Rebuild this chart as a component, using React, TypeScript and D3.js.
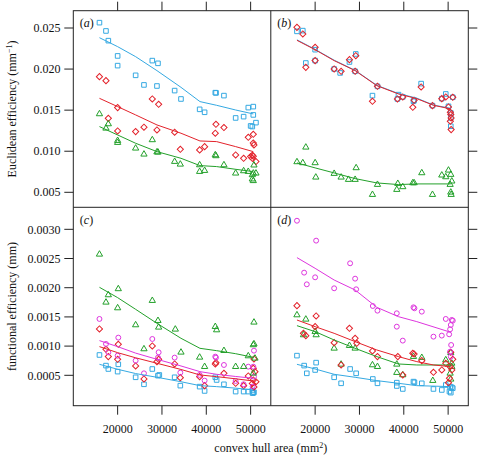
import React from 'react';
import * as d3 from 'd3';

type P = [number, number];

// ---------- data ----------
const X_TICKS = [20000, 30000, 40000, 50000];
const Y_TICKS_TOP = [0.005, 0.01, 0.015, 0.02, 0.025];
const Y_TICKS_BOTTOM = [0.0005, 0.001, 0.0015, 0.002, 0.0025, 0.003];
const PANEL_LABELS = ['a', 'b', 'c', 'd'];
const Y_TITLE_TOP = 'Euclidean efficiency (mm';
const Y_TITLE_BOTTOM = 'functional efficiency (mm)';
const X_TITLE = 'convex hull area (mm';

const A_BLUE_PTS: P[] = [[15900,0.02565],[17370,0.02464],[17900,0.02346],[20000,0.0216],[20000,0.02042],[24060,0.01924],[25940,0.01807],[27820,0.02103],[29100,0.0207],[28870,0.01794],[32860,0.01738],[34290,0.01636],[38500,0.0151],[39620,0.01474],[42030,0.01713],[42200,0.0171],[43980,0.01677],[46620,0.01405],[48420,0.01421],[49470,0.01531],[50600,0.01543],[50600,0.01442],[50000,0.01308],[50380,0.013],[51200,0.01348]];
const A_BLUE_LINE: P[] = [[15900,0.02382],[20000,0.02273],[24060,0.02151],[28870,0.01981],[34290,0.01778],[38570,0.01604],[42330,0.01559],[46620,0.01502],[50600,0.01454]];
const A_RED_PTS: P[] = [[15900,0.01908],[17370,0.01859],[20000,0.01531],[17900,0.014],[20000,0.01247],[24060,0.01239],[25940,0.01292],[27820,0.01636],[29250,0.01571],[28870,0.01259],[32860,0.01231],[34140,0.01024],[38500,0.01016],[39620,0.01056],[42030,0.01219],[42180,0.01328],[43980,0.01288],[46620,0.00955],[48420,0.00914],[49470,0.0117],[50600,0.01206],[50600,0.011],[50750,0.01077],[50000,0.00935],[50380,0.00914],[51200,0.00874],[50600,0.0094],[50380,0.0095]];
const A_RED_LINE: P[] = [[15900,0.01644],[20000,0.01543],[24060,0.01442],[28870,0.0132],[34290,0.01219],[38570,0.01125],[42330,0.01117],[46620,0.01056],[50600,0.00995]];
const A_GREEN_PTS: P[] = [[15900,0.01454],[17370,0.01279],[17900,0.01332],[20000,0.01129],[20000,0.01105],[24060,0.01036],[25940,0.00963],[27820,0.01138],[29100,0.00987],[28870,0.0099],[32860,0.00874],[34140,0.00841],[38500,0.00833],[38500,0.00752],[39620,0.00764],[42030,0.00955],[42180,0.00943],[43980,0.00833],[46620,0.00732],[48420,0.0076],[49470,0.00752],[50600,0.00732],[50380,0.00712],[51200,0.00732],[50380,0.0066],[50600,0.0064],[50750,0.0083]];
const A_GREEN_LINE: P[] = [[15900,0.013],[20000,0.01198],[24060,0.01097],[28870,0.00995],[34290,0.00914],[38570,0.00825],[42330,0.00813],[46620,0.0078],[50600,0.00752]];

const B_BLUE_PTS: P[] = [[15900,0.02459],[17220,0.02468],[17900,0.02074],[20000,0.02236],[20000,0.02103],[24290,0.02001],[25640,0.01953],[27740,0.02086],[29170,0.02184],[29020,0.01973],[34060,0.0179],[32930,0.01677],[38570,0.01636],[38800,0.01689],[39770,0.01661],[42180,0.01608],[42330,0.0162],[43910,0.01823],[46470,0.01555],[48570,0.0164],[49470,0.01697],[51050,0.01657],[50080,0.01547],[50600,0.01466],[50600,0.01405],[50600,0.01304]];
const B_BLUE_LINE: P[] = [[15900,0.02356],[20000,0.0224],[24290,0.02108],[29020,0.01985],[33910,0.01802],[38800,0.01702],[42930,0.01646],[46690,0.01562],[50600,0.01522]];
const B_RED_PTS: P[] = [[15900,0.02508],[17220,0.02427],[17900,0.02021],[20000,0.02265],[20000,0.02103],[24290,0.02001],[25860,0.01973],[27740,0.02115],[29170,0.02163],[29020,0.01973],[34060,0.0179],[32930,0.01608],[38570,0.01636],[39770,0.01661],[42030,0.01535],[42330,0.0162],[43910,0.01782],[46470,0.01555],[48570,0.0164],[49470,0.01661],[51050,0.01657],[50080,0.01539],[50500,0.01474],[50600,0.01446],[50680,0.01405],[50500,0.01365],[50680,0.01263]];
const B_RED_LINE: P[] = [[15900,0.0235],[20000,0.02236],[24290,0.02103],[29020,0.01981],[33910,0.01798],[38800,0.01697],[42930,0.0164],[46690,0.01559],[50600,0.01515]];
const B_GREEN_PTS: P[] = [[17900,0.01048],[15900,0.0087],[17220,0.00858],[20000,0.00858],[20150,0.00683],[24290,0.00728],[25860,0.00683],[27520,0.00655],[29020,0.00655],[29250,0.00797],[34060,0.00594],[32930,0.00472],[38650,0.00606],[38420,0.00533],[39770,0.00566],[42030,0.00614],[42330,0.00614],[44060,0.00736],[46470,0.00472],[48570,0.00708],[49470,0.00687],[50080,0.00768],[50600,0.00716],[50830,0.00635],[50450,0.00594],[50600,0.005],[50680,0.00472]];
const B_GREEN_LINE: P[] = [[15900,0.00858],[20000,0.00797],[24290,0.00736],[29020,0.00667],[33910,0.00614],[38800,0.00594],[42930,0.00602],[50600,0.00602]];

const C_GREEN_PTS: P[] = [[15900,0.002572],[17370,0.00175],[17900,0.001876],[20150,0.00198],[20000,0.001653],[24060,0.001362],[25940,0.000951],[27820,0.001779],[29100,0.001436],[29250,0.001322],[33010,0.001288],[34290,0.000894],[38500,0.000808],[39620,0.000648],[42030,0.001333],[42330,0.001276],[43980,0.000922],[46620,0.000648],[48420,0.000648],[49470,0.000831],[50750,0.001408],[50750,0.001037],[50600,0.00102],[50980,0.000791],[50600,0.000534]];
const C_GREEN_LINE: P[] = [[15900,0.002007],[20000,0.00183],[24060,0.00163],[28870,0.00139],[34290,0.001134],[38570,0.000962],[42330,0.000922],[46620,0.00087],[50600,0.000808]];
const C_MAGENTA_PTS: P[] = [[15900,0.001465],[17370,0.001037],[17900,0.000894],[20150,0.001145],[20000,0.000836],[24060,0.000751],[25940,0.000534],[27820,0.001122],[29250,0.000894],[29100,0.000803],[32860,0.000803],[34140,0.000546],[38500,0.000506],[39620,0.000409],[42030,0.00082],[42180,0.000803],[43980,0.000677],[46620,0.000403],[48420,0.000346],[49470,0.000648],[50750,0.000922],[50600,0.000648],[50750,0.000477],[50450,0.000306]];
const C_MAGENTA_LINE: P[] = [[15900,0.001094],[20000,0.000991],[24060,0.00088],[28870,0.000774],[34290,0.00066],[38570,0.000563],[42330,0.000517],[46620,0.00048],[50600,0.000449]];
const C_RED_PTS: P[] = [[15900,0.001293],[17370,0.000945],[17900,0.00082],[20000,0.000774],[20150,0.001031],[24060,0.00066],[25940,0.000437],[27820,0.001002],[29250,0.000774],[28870,0.000734],[32860,0.000694],[34140,0.00046],[38500,0.000477],[39620,0.000323],[42030,0.000694],[42180,0.000717],[43980,0.000534],[46620,0.000363],[48420,0.000323],[49470,0.000489],[50750,0.00078],[50600,0.00062],[50980,0.000563],[50600,0.00042],[51200,0.00039],[50380,0.00036],[50750,0.0003]];
const C_RED_LINE: P[] = [[15900,0.000991],[20000,0.000888],[24060,0.0008],[28870,0.000706],[34290,0.0006],[38570,0.000506],[42330,0.000477],[46620,0.00044],[50600,0.000403]];
const C_BLUE_PTS: P[] = [[15900,0.000848],[17370,0.000666],[17900,0.000608],[20000,0.000563],[20150,0.000688],[24060,0.000466],[25940,0.000346],[27820,0.000608],[29100,0.000494],[29400,0.000506],[32860,0.000466],[34140,0.000323],[38500,0.000306],[39620,0.000232],[42030,0.000466],[42330,0.00042],[43980,0.000346],[46620,0.000221],[48420,0.000221],[49470,0.000221],[50600,0.0002],[50750,0.00021],[50380,0.00024],[50450,0.000195]];
const C_BLUE_LINE: P[] = [[15900,0.000688],[20000,0.000603],[24060,0.00053],[28870,0.000466],[34290,0.00039],[38570,0.000323],[42330,0.000306],[46620,0.00028],[50600,0.000249]];

const D_MAGENTA_PTS: P[] = [[15900,0.003147],[20225,0.002806],[17520,0.002258],[18120,0.002058],[20000,0.002178],[24290,0.00199],[27890,0.002418],[29020,0.002155],[29250,0.001973],[33010,0.001687],[34060,0.001607],[38420,0.001562],[38420,0.001333],[39770,0.001094],[42180,0.001664],[42400,0.001648],[44060,0.00159],[46690,0.001162],[48570,0.00118],[49470,0.001465],[50230,0.001202],[50450,0.001288],[50830,0.001448],[51050,0.001436],[50600,0.001362],[50680,0.001019],[50450,0.000905],[50600,0.00082]];
const D_MAGENTA_LINE: P[] = [[15900,0.002515],[20000,0.002332],[24290,0.002132],[29020,0.001961],[33910,0.001664],[38800,0.001504],[42930,0.001419],[50600,0.001236]];
const D_RED_PTS: P[] = [[15900,0.001693],[20225,0.001516],[20000,0.001333],[17370,0.001219],[17900,0.001179],[24290,0.001059],[25860,0.000677],[27740,0.001305],[29020,0.001134],[29400,0.001048],[32930,0.000917],[34060,0.00082],[38650,0.00082],[39770,0.000506],[42030,0.000877],[42330,0.000865],[44060,0.000751],[46690,0.000551],[48570,0.000591],[49470,0.000706],[50600,0.000894],[51050,0.000774],[50450,0.000648],[50830,0.000591],[50300,0.000449],[50080,0.000374]];
const D_RED_LINE: P[] = [[15900,0.001447],[20000,0.001333],[24290,0.001219],[29020,0.001077],[33910,0.000934],[38800,0.00082],[42930,0.000734],[46690,0.000677],[50600,0.000648]];
const D_GREEN_PTS: P[] = [[15900,0.001533],[17900,0.001459],[17370,0.001191],[20000,0.001248],[20225,0.001191],[24290,0.000962],[25860,0.000688],[27740,0.001008],[29020,0.000962],[32930,0.000677],[34060,0.000648],[38420,0.000688],[38420,0.000546],[39770,0.000506],[42180,0.00082],[44060,0.000803],[46540,0.000409],[49470,0.000763],[50600,0.000888],[50830,0.000648],[50450,0.000534],[50600,0.000432],[50830,0.000705]];
const D_GREEN_LINE: P[] = [[15900,0.00135],[20000,0.001248],[24290,0.001105],[29020,0.000962],[33910,0.00082],[38800,0.000694],[42930,0.000677],[50600,0.000677]];
const D_BLUE_PTS: P[] = [[15900,0.000837],[17520,0.000666],[18120,0.000534],[20225,0.000717],[20000,0.000591],[24290,0.000466],[25860,0.000363],[27890,0.000608],[29250,0.000534],[33010,0.000437],[34060,0.000363],[38420,0.000374],[38420,0.000317],[39770,0.000266],[42180,0.000392],[42400,0.00038],[44060,0.000363],[46690,0.000266],[48570,0.000249],[49470,0.000334],[50450,0.000306],[50830,0.000295],[50300,0.000221],[50600,0.000203],[51050,0.00028]];
const D_BLUE_LINE: P[] = [[15900,0.000688],[20000,0.000608],[24290,0.000517],[29020,0.000466],[33910,0.000409],[38800,0.000363],[42930,0.000323],[50600,0.000306]];

// ---------- styling / layout ----------
const BLUE = '#35A9E2';
const RED = '#E3222B';
const GREEN = '#23A02A';
const MAGENTA = '#DE35DE';
const FONT = "'Liberation Serif', 'DejaVu Serif', serif";
const FRAME = '#222';

const LEFT = 73.3, MID = 270.8, RIGHT = 468.3;
const TOP = 10.7, VMID = 207.3, BOTTOM = 405.7;
const TICK = 9;

type Shape = 'square' | 'diamond' | 'triangle' | 'circle';
interface Series { shape: Shape; color: string; pts: P[]; line: P[] }

const symSquare = d3.symbol().type(d3.symbolSquare).size(21)()!;
const symDiamond = d3.symbol().type(d3.symbolSquare).size(19)()!;
const symTriangle = d3.symbol().type(d3.symbolTriangle).size(17)()!;
const symCircle = d3.symbol().type(d3.symbolCircle).size(19)()!;

const shapePath = (s: Shape) =>
  s === 'square' ? symSquare : s === 'diamond' ? symDiamond : s === 'triangle' ? symTriangle : symCircle;

const panels: { col: number; row: number; series: Series[] }[] = [
  { col: 0, row: 0, series: [
    { shape: 'square', color: BLUE, pts: A_BLUE_PTS, line: A_BLUE_LINE },
    { shape: 'diamond', color: RED, pts: A_RED_PTS, line: A_RED_LINE },
    { shape: 'triangle', color: GREEN, pts: A_GREEN_PTS, line: A_GREEN_LINE },
  ] },
  { col: 1, row: 0, series: [
    { shape: 'square', color: BLUE, pts: B_BLUE_PTS, line: B_BLUE_LINE },
    { shape: 'diamond', color: RED, pts: B_RED_PTS, line: B_RED_LINE },
    { shape: 'triangle', color: GREEN, pts: B_GREEN_PTS, line: B_GREEN_LINE },
  ] },
  { col: 0, row: 1, series: [
    { shape: 'square', color: BLUE, pts: C_BLUE_PTS, line: C_BLUE_LINE },
    { shape: 'diamond', color: RED, pts: C_RED_PTS, line: C_RED_LINE },
    { shape: 'circle', color: MAGENTA, pts: C_MAGENTA_PTS, line: C_MAGENTA_LINE },
    { shape: 'triangle', color: GREEN, pts: C_GREEN_PTS, line: C_GREEN_LINE },
  ] },
  { col: 1, row: 1, series: [
    { shape: 'square', color: BLUE, pts: D_BLUE_PTS, line: D_BLUE_LINE },
    { shape: 'triangle', color: GREEN, pts: D_GREEN_PTS, line: D_GREEN_LINE },
    { shape: 'diamond', color: RED, pts: D_RED_PTS, line: D_RED_LINE },
    { shape: 'circle', color: MAGENTA, pts: D_MAGENTA_PTS, line: D_MAGENTA_LINE },
  ] },
];

const xScales = [
  d3.scaleLinear().domain([10000, 54550]).range([LEFT, MID]),
  d3.scaleLinear().domain([10000, 54550]).range([MID, RIGHT]),
];
const yScales = [
  d3.scaleLinear().domain([0.003174, 0.027106]).range([VMID, TOP]),
  d3.scaleLinear().domain([-0.0000205, 0.003377]).range([BOTTOM, VMID]),
];
const fmtTop = d3.format('.3f');
const fmtBottom = d3.format('.4f');

export default function App() {
  return (
    <svg width={480} height={455} style={{ position: 'absolute', left: 0, top: 0, background: '#fff' }}
      fontFamily={FONT}>
      <rect x={0} y={0} width={480} height={455} fill="#fff" />
      {panels.map((p, i) => {
        const xs = xScales[p.col];
        const ys = yScales[p.row];
        const line = d3.line<P>().x(d => xs(d[0])).y(d => ys(d[1]));
        const [x0, x1] = xs.range();
        const [yb, yt] = ys.range();
        return (
          <g key={i}>
            <clipPath id={`clip${i}`}>
              <rect x={x0} y={yt} width={x1 - x0} height={yb - yt} />
            </clipPath>
            <g clipPath={`url(#clip${i})`}>
              {p.series.map((s, j) => (
                <g key={j}>
                  {s.pts.map((d, k) => (
                    <path key={k} d={shapePath(s.shape)}
                      transform={`translate(${xs(d[0])},${ys(d[1])})${s.shape === 'diamond' ? ' rotate(45)' : ''}`}
                      fill="none" stroke={s.color} strokeWidth={1} />
                  ))}
                </g>
              ))}
              {p.series.map((s, j) => (
                <path key={'l' + j} d={line(s.line)!} fill="none" stroke={s.color} strokeWidth={1} />
              ))}
            </g>
            <text x={x0 + 6.5} y={yt + 16.5} fontSize={12} fill="#111">
              (<tspan fontStyle="italic">{PANEL_LABELS[i]}</tspan>)
            </text>
          </g>
        );
      })}

      {/* frames */}
      <rect x={LEFT} y={TOP} width={RIGHT - LEFT} height={BOTTOM - TOP} fill="none" stroke={FRAME} strokeWidth={1} />
      <line x1={MID} x2={MID} y1={TOP} y2={BOTTOM} stroke={FRAME} strokeWidth={1} />
      <line x1={LEFT} x2={RIGHT} y1={VMID} y2={VMID} stroke={FRAME} strokeWidth={1} />

      {/* top ticks */}
      {xScales.map((xs, c) => X_TICKS.map(t => (
        <line key={`tt${c}${t}`} x1={xs(t)} x2={xs(t)} y1={TOP} y2={TOP - TICK} stroke={FRAME} />
      )))}
      {/* bottom ticks & labels */}
      {xScales.map((xs, c) => X_TICKS.map(t => (
        <g key={`bt${c}${t}`}>
          <line x1={xs(t)} x2={xs(t)} y1={BOTTOM} y2={BOTTOM + TICK} stroke={FRAME} />
          <text x={xs(t)} y={433} textAnchor="middle" fontSize={12} fill="#111">{t}</text>
        </g>
      )))}
      {/* left/right ticks */}
      {Y_TICKS_TOP.map(t => (
        <g key={`yt${t}`}>
          <line x1={LEFT - TICK} x2={LEFT} y1={yScales[0](t)} y2={yScales[0](t)} stroke={FRAME} />
          <line x1={RIGHT} x2={RIGHT + TICK} y1={yScales[0](t)} y2={yScales[0](t)} stroke={FRAME} />
          <text x={60.5} y={yScales[0](t)} dy="0.35em" textAnchor="end" fontSize={12} fill="#111">{fmtTop(t)}</text>
        </g>
      ))}
      {Y_TICKS_BOTTOM.map(t => (
        <g key={`yb${t}`}>
          <line x1={LEFT - TICK} x2={LEFT} y1={yScales[1](t)} y2={yScales[1](t)} stroke={FRAME} />
          <line x1={RIGHT} x2={RIGHT + TICK} y1={yScales[1](t)} y2={yScales[1](t)} stroke={FRAME} />
          <text x={60.5} y={yScales[1](t)} dy="0.35em" textAnchor="end" fontSize={12} fill="#111">{fmtBottom(t)}</text>
        </g>
      ))}

      {/* axis titles */}
      <text transform={`translate(16,${(TOP + VMID) / 2}) rotate(-90)`} textAnchor="middle" fontSize={12} fill="#111">
        {Y_TITLE_TOP}<tspan dy={-4} fontSize={8}>−1</tspan><tspan dy={4}>)</tspan>
      </text>
      <text transform={`translate(16,${(VMID + BOTTOM) / 2}) rotate(-90)`} textAnchor="middle" fontSize={12} fill="#111">
        {Y_TITLE_BOTTOM}
      </text>
      <text x={(LEFT + RIGHT) / 2} y={452} textAnchor="middle" fontSize={12} fill="#111">
        {X_TITLE}<tspan dy={-4} fontSize={8}>2</tspan><tspan dy={4}>)</tspan>
      </text>
    </svg>
  );
}
